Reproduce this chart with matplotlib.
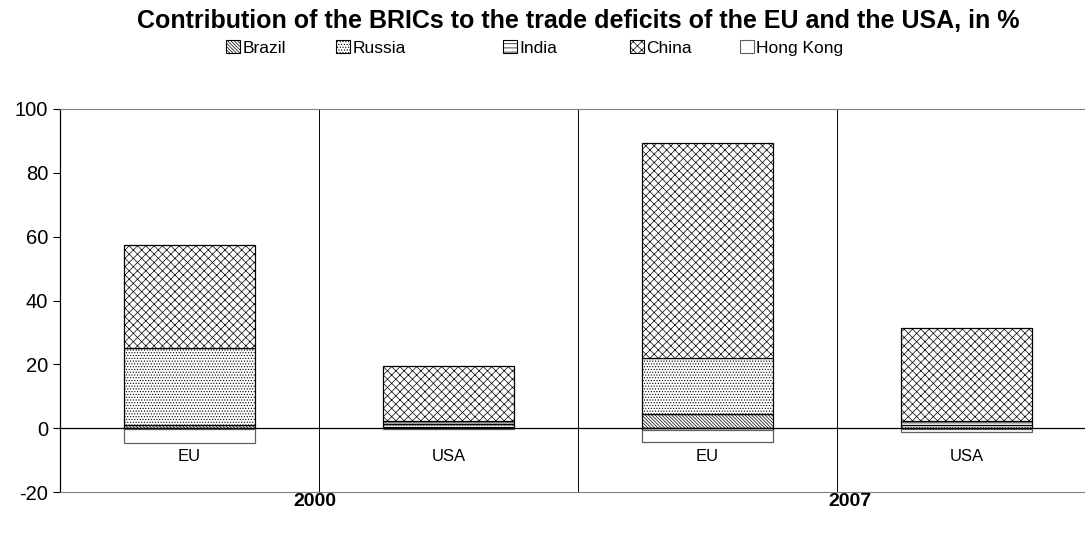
import numpy as np
import matplotlib.pyplot as plt
from matplotlib.patches import Patch

plt.rcParams['font.family'] = ['Liberation Sans', 'DejaVu Sans']
plt.rcParams['hatch.linewidth'] = 0.5
plt.rcParams['axes.unicode_minus'] = False

# data: contribution to trade deficit, in %
categories = ['EU', 'USA', 'EU', 'USA']
years = ['2000', '2007']
series_names = ['Brazil', 'Russia', 'India', 'China', 'Hong Kong']
brazil = [1.0, 0.4, 4.5, -0.3]
russia = [24.0, 0.8, 17.5, 1.0]
india = [-0.3, 1.2, -0.5, 1.3]
china = [32.5, 17.1, 67.5, 29.2]
hong_kong = [-4.5, -0.3, -3.8, -0.9]

series = [brazil, russia, india, china, hong_kong]
hatches = ['\\' * 10, '......', '----', 'xxxx', '']
edges = ['black', 'black', 'black', 'black', '#606060']

fig = plt.figure(figsize=(10.85, 5.38), dpi=100)
ax = fig.add_axes([60 / 1085, 1 - 492 / 538, 1 - 60 / 1085, (492 - 109) / 538])

x = np.arange(len(categories))
pos_bottom = np.zeros(len(categories))
neg_bottom = np.zeros(len(categories))
for name, vals, h, ec in zip(series_names, series, hatches, edges):
    vals = np.array(vals)
    bottom = np.where(vals >= 0, pos_bottom, neg_bottom)
    ax.bar(x, vals, width=0.506, bottom=bottom, color='white', edgecolor=ec,
           hatch=h, linewidth=0.9, label=name)
    pos_bottom = pos_bottom + np.where(vals >= 0, vals, 0)
    neg_bottom = neg_bottom + np.where(vals < 0, vals, 0)

ax.set_xlim(-0.5, 3.458)
ax.set_ylim(-20, 100)
ax.set_yticks(np.arange(-20, 101, 20))
ax.tick_params(axis='y', labelsize=14.5, direction='out', length=5, width=0.8)
ax.set_xticks([])
ax.spines['right'].set_visible(False)
ax.spines['top'].set_color('#808080')
ax.spines['bottom'].set_color('#808080')
ax.spines['left'].set_linewidth(0.9)
ax.axhline(0, color='black', linewidth=0.9)
for sep in [0.5, 1.5, 2.5]:
    ax.axvline(sep, color='black', linewidth=0.7)

for i, cat in enumerate(categories):
    ax.text(i, -8.8, cat, ha='center', va='center', fontsize=12)

fig.text(315 / 1085, 1 - 502 / 538, years[0], ha='center', va='center',
         fontsize=14, fontweight='bold')
fig.text(850 / 1085, 1 - 502 / 538, years[1], ha='center', va='center',
         fontsize=14, fontweight='bold')

fig.text(578 / 1085, 1 - 21 / 538,
         'Contribution of the BRICs to the trade deficits of the EU and the USA, in %',
         ha='center', va='center', fontsize=18, fontweight='bold')

# legend entries placed one by one like the Excel legend
legend_x = [226, 336, 503, 630, 740]
for name, h, ec, lx in zip(series_names, hatches, edges, legend_x):
    patch = Patch(facecolor='white', edgecolor=ec, hatch=h, linewidth=0.8, label=name)
    fig.legend(handles=[patch], loc='center left',
               bbox_to_anchor=(lx / 1085, 1 - 48 / 538), frameon=False,
               fontsize=12.5, handlelength=0.8, handleheight=0.8,
               handletextpad=0.15, borderpad=0, borderaxespad=0)

fig.savefig('out.png', dpi=100)
